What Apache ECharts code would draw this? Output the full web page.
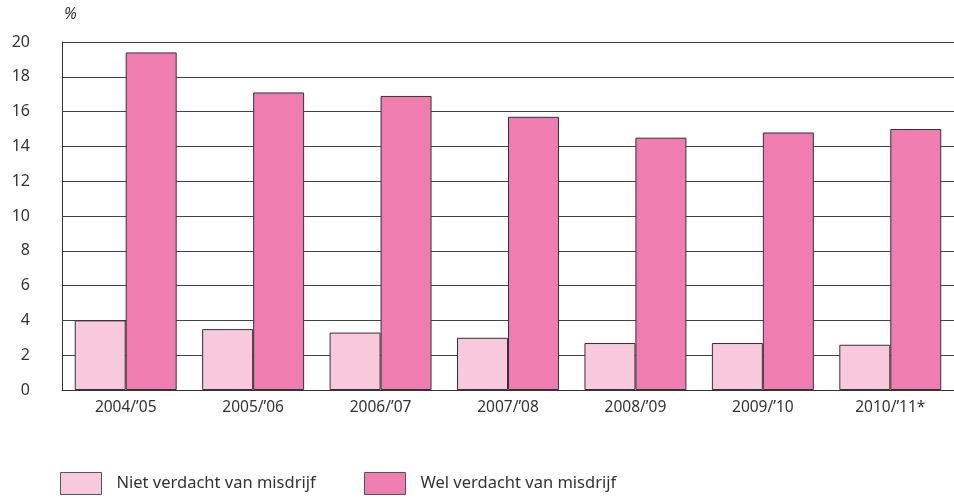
<!DOCTYPE html>
<html>
<head>
<meta charset="utf-8">
<script src="https://cdn.jsdelivr.net/npm/echarts@6/dist/echarts.min.js"></script>
<style>
  html, body { margin: 0; padding: 0; background: #fff; }
  #chart { width: 954px; height: 498px; }
</style>
</head>
<body>
<div id="chart"></div>
<script>
// schooljaren
var categories = ["2004/’05", "2005/’06", "2006/’07", "2007/’08", "2008/’09", "2009/’10", "2010/’11*"];
var nietVerdacht = [4.0, 3.5, 3.3, 3.0, 2.7, 2.7, 2.6];
var welVerdacht = [19.4, 17.1, 16.9, 15.7, 14.5, 14.8, 15.0];
var yTicks = { min: 0, max: 20, interval: 2 };

var font = "'Noto Sans', sans-serif";
var chart = echarts.init(document.getElementById('chart'));
var legendText = { fontSize: 16.5, color: '#333', fontFamily: font, padding: [0, 0, 0, 10] };
var option = {
    animation: false,
    textStyle: { fontFamily: font, color: '#333' },
    grid: { left: 62, right: 0, top: 42, bottom: 108, containLabel: false },
    legend: [{
        data: ['Niet verdacht van misdrijf'],
        left: 60, top: 472, padding: 0,
        icon: 'rect',
        itemWidth: 41, itemHeight: 22,
        itemStyle: { borderColor: '#555', borderWidth: 1 },
        textStyle: legendText
    }, {
        data: ['Wel verdacht van misdrijf'],
        left: 364, top: 472, padding: 0,
        icon: 'rect',
        itemWidth: 41, itemHeight: 22,
        itemStyle: { borderColor: '#555', borderWidth: 1 },
        textStyle: legendText
    }],
    xAxis: {
        type: 'category',
        data: categories,
        axisLine: { show: true, lineStyle: { color: '#333', width: 1 } },
        axisTick: { show: false },
        axisLabel: { fontSize: 15.5, color: '#333', margin: 10 }
    },
    yAxis: {
        type: 'value',
        min: yTicks.min,
        max: yTicks.max,
        interval: yTicks.interval,
        name: '%',
        nameLocation: 'end',
        nameGap: 20,
        nameTextStyle: { fontSize: 16, color: '#333', fontStyle: 'italic', align: 'left', padding: [0, 0, 0, 2] },
        axisLine: { show: true, lineStyle: { color: '#333', width: 1 } },
        axisTick: { show: false },
        axisLabel: { fontSize: 16, color: '#333', margin: 32 },
        splitLine: { lineStyle: { color: '#444', width: 1 } }
    },
    series: [{
        name: 'Niet verdacht van misdrijf',
        type: 'bar',
        data: nietVerdacht,
        barGap: '0%',
        barCategoryGap: '20%',
        itemStyle: { color: '#f8c9dd', borderColor: '#333', borderWidth: 1 }
    }, {
        name: 'Wel verdacht van misdrijf',
        type: 'bar',
        data: welVerdacht,
        itemStyle: { color: '#f07db0', borderColor: '#333', borderWidth: 1 }
    }]
};
chart.setOption(option);
</script>
</body>
</html>
